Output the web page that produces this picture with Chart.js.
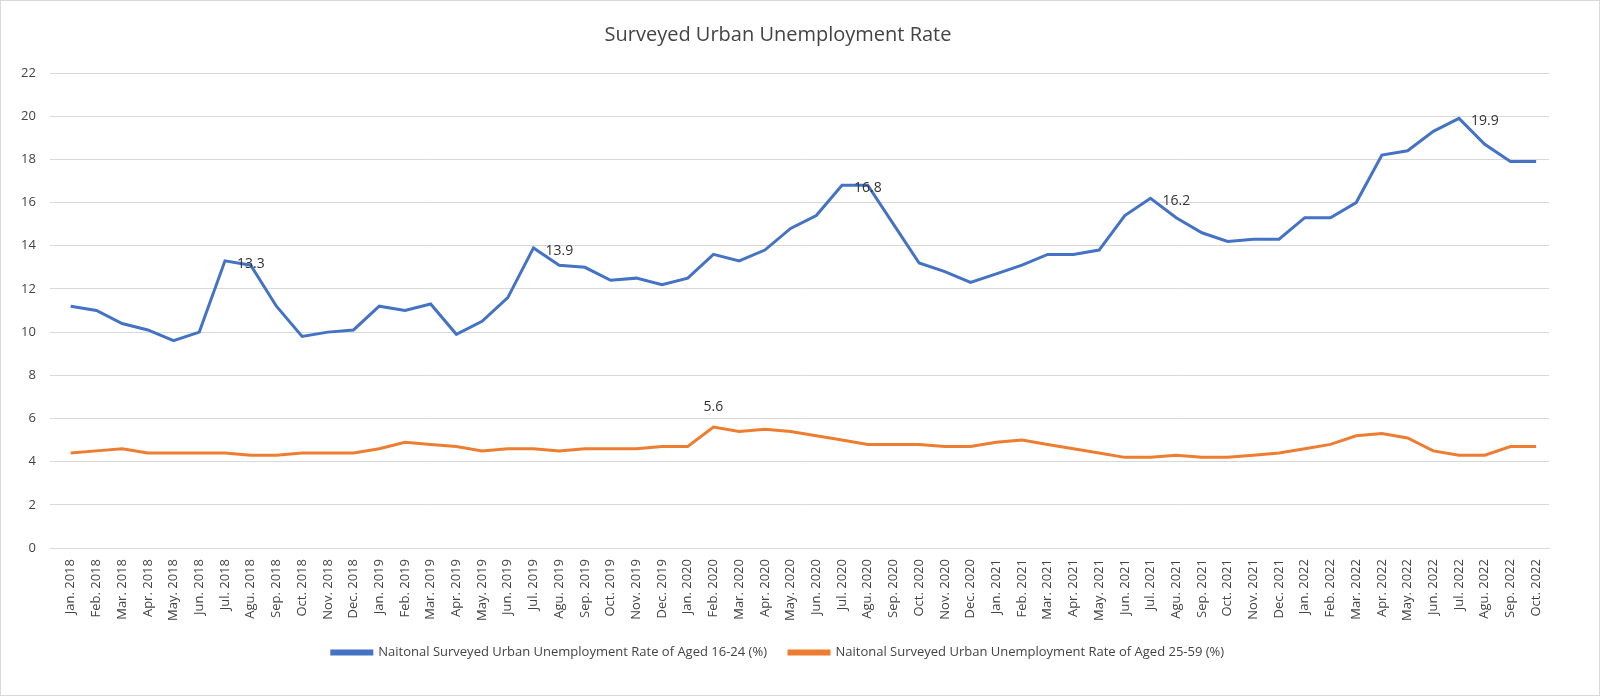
<!DOCTYPE html>
<html>
<head>
<meta charset="utf-8">
<script src="https://cdn.jsdelivr.net/npm/chart.js@4"></script>
<style>
body { margin: 0; background: #fff; }
#wrap { width: 1598px; height: 694px; position: relative; border: 1px solid #d9d9d9; }
</style>
</head>
<body>
<div id="wrap"><canvas id="c"></canvas></div>
<script>
const months = ["Jan.", "Feb.", "Mar.", "Apr.", "May.", "Jun.", "Jul.", "Agu.", "Sep.", "Oct.", "Nov.", "Dec."];
const years = [2018, 2019, 2020, 2021, 2022];
const labels = [];
years.forEach(y => months.forEach((m, i) => {
  if (y === 2022 && i > 9) return;
  labels.push(m + " " + y);
}));

const youth = [11.2, 11.0, 10.4, 10.1, 9.6, 10.0, 13.3, 13.1, 11.2, 9.8, 10.0, 10.1,
  11.2, 11.0, 11.3, 9.9, 10.5, 11.6, 13.9, 13.1, 13.0, 12.4, 12.5, 12.2,
  12.5, 13.6, 13.3, 13.8, 14.8, 15.4, 16.8, 16.8, 15.0, 13.2, 12.8, 12.3,
  12.7, 13.1, 13.6, 13.6, 13.8, 15.4, 16.2, 15.3, 14.6, 14.2, 14.3, 14.3,
  15.3, 15.3, 16.0, 18.2, 18.4, 19.3, 19.9, 18.7, 17.9, 17.9];
const adult = [4.4, 4.5, 4.6, 4.4, 4.4, 4.4, 4.4, 4.3, 4.3, 4.4, 4.4, 4.4,
  4.6, 4.9, 4.8, 4.7, 4.5, 4.6, 4.6, 4.5, 4.6, 4.6, 4.6, 4.7,
  4.7, 5.6, 5.4, 5.5, 5.4, 5.2, 5.0, 4.8, 4.8, 4.8, 4.7, 4.7,
  4.9, 5.0, 4.8, 4.6, 4.4, 4.2, 4.2, 4.3, 4.2, 4.2, 4.3, 4.4,
  4.6, 4.8, 5.2, 5.3, 5.1, 4.5, 4.3, 4.3, 4.7, 4.7];

// indices of annotated points
const youthLabels = [6, 18, 30, 42, 54];
const adultLabels = [25];

const pointLabels = {
  id: "pointLabels",
  afterDatasetsDraw(chart) {
    const ctx = chart.ctx;
    ctx.save();
    ctx.font = "14px 'Open Sans', sans-serif";
    ctx.fillStyle = "#333";
    ctx.textBaseline = "middle";
    const m0 = chart.getDatasetMeta(0), m1 = chart.getDatasetMeta(1);
    youthLabels.forEach(i => {
      const p = m0.data[i];
      ctx.textAlign = "left";
      ctx.fillText(youth[i].toFixed(1), p.x + 12, p.y + 3);
    });
    adultLabels.forEach(i => {
      const p = m1.data[i];
      ctx.textAlign = "center";
      ctx.fillText(adult[i].toFixed(1), p.x, p.y - 20);
    });
    ctx.restore();
  }
};

new Chart(document.getElementById("c"), {
  type: "line",
  data: {
    labels: labels,
    datasets: [
      { label: "Naitonal Surveyed Urban Unemployment Rate of Aged 16-24 (%)", data: youth,
        borderColor: "#4472c4", backgroundColor: "#4472c4", borderWidth: 3, pointRadius: 0, tension: 0 },
      { label: "Naitonal Surveyed Urban Unemployment Rate of Aged 25-59 (%)", data: adult,
        borderColor: "#ed7d31", backgroundColor: "#ed7d31", borderWidth: 3, pointRadius: 0, tension: 0 }
    ]
  },
  options: {
    responsive: true,
    maintainAspectRatio: false,
    animation: false,
    layout: { padding: { left: 6, right: 50, top: 14, bottom: 26 } },
    plugins: {
      title: { display: true, text: "Surveyed Urban Unemployment Rate", color: "#444",
        font: { size: 20, family: "'Open Sans', sans-serif", weight: "normal" }, padding: { top: 8, bottom: 26 } },
      legend: { position: "bottom",
        labels: { color: "#444", font: { size: 13, family: "'Open Sans', sans-serif" },
          boxWidth: 40, boxHeight: 3, padding: 22 } },
      tooltip: { enabled: false }
    },
    scales: {
      x: {
        offset: true,
        grid: { display: false },
        border: { color: "#d9d9d9" },
        ticks: { color: "#444", font: { size: 13, family: "'Open Sans', sans-serif" },
          minRotation: 90, maxRotation: 90, autoSkip: false }
      },
      y: {
        min: 0, max: 22,
        ticks: { stepSize: 2, color: "#444", font: { size: 13, family: "'Open Sans', sans-serif" }, padding: 14 },
        grid: { color: "#d9d9d9" },
        border: { display: false }
      }
    }
  },
  plugins: [pointLabels]
});
</script>
</body>
</html>
